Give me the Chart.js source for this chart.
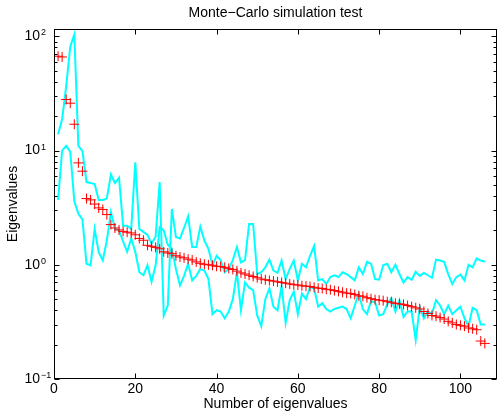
<!DOCTYPE html>
<html>
<head>
<meta charset="utf-8">
<script src="https://cdn.jsdelivr.net/npm/chart.js@4/dist/chart.umd.min.js"></script>
<style>
  html, body { margin: 0; padding: 0; background: #fff; }
  #wrap { width: 498px; height: 413px; }
</style>
</head>
<body>
<div id="wrap"><canvas id="mc" width="498" height="413"></canvas></div>
<script>
// labels
const titleText = 'Monte\u2212Carlo simulation test';
const xLabel = 'Number of eigenvalues';
const yLabel = 'Eigenvalues';
const xTicks = [0, 20, 40, 60, 80, 100];
const yTickExps = [-1, 0, 1, 2];

// sorted eigenvalues (red +), index 1..106
const eigenvalues = [
  67, 66, 28, 26, 17, 7.8, 6.6, 3.8, 3.7, 3.4,
  3.15, 3.05, 2.75, 2.25, 2.1, 2.02, 1.96, 1.93, 1.9, 1.83,
  1.7, 1.64, 1.48, 1.45, 1.42, 1.38, 1.3, 1.27, 1.25, 1.2,
  1.17, 1.15, 1.12, 1.1, 1.06, 1.03, 1.01, 1.0, 0.99, 0.97,
  0.965, 0.95, 0.93, 0.91, 0.88, 0.85, 0.83, 0.81, 0.79, 0.77,
  0.75, 0.74, 0.73, 0.72, 0.71, 0.70, 0.69, 0.68, 0.67, 0.665,
  0.655, 0.65, 0.645, 0.635, 0.625, 0.62, 0.61, 0.605, 0.595, 0.585,
  0.575, 0.565, 0.56, 0.55, 0.535, 0.53, 0.515, 0.505, 0.495, 0.49,
  0.485, 0.475, 0.47, 0.46, 0.455, 0.45, 0.44, 0.43, 0.42, 0.41,
  0.39, 0.375, 0.36, 0.355, 0.345, 0.335, 0.32, 0.31, 0.30, 0.295,
  0.29, 0.28, 0.275, 0.27, 0.215, 0.205
];

// simulated bands (cyan)
const upperBand = [
  13.9, 18.8, 36.6, 81, 104, 11, 9.9, 5.3, 5.2, 5.1,
  3.7, 3.7, 3.8, 6.2, 5.2, 5.8, 2.2, 2.2, 2.06, 7.9,
  2.06, 1.94, 1.83, 1.53, 1.76, 5.3, 0.36, 0.44, 3.08, 1.75,
  1.7, 2.1, 2.66, 1.43, 1.43, 2.16, 1.63, 1.38, 0.99, 1.2,
  1.1, 0.86, 0.92, 1.1, 1.43, 1.05, 1.1, 2.28, 2.28, 0.83,
  0.86, 0.95, 1.11, 0.89, 0.85, 1.09, 0.75, 0.92, 1.09, 0.73,
  1.02, 0.95, 1.2, 1.46, 0.73, 0.75, 0.68, 0.78, 0.81, 0.78,
  0.86, 0.83, 0.78, 0.73, 0.95, 0.83, 1.06, 1.02, 0.75, 0.74,
  0.99, 1.02, 0.86, 1.0, 0.83, 0.70, 0.78, 0.74, 0.87, 0.80,
  0.85, 0.81, 0.77, 1.11, 1.09, 1.06, 0.83, 0.68, 0.78, 0.82,
  0.73, 1.0, 0.95, 1.14, 1.09, 1.07
];

const lowerBand = [
  3.7, 10, 11, 9.8, 3.6, 2.8, 2.5, 1.02, 0.99, 2.06,
  1.29, 1.09, 1.63, 2.9, 2.06, 2.0, 1.6, 1.3, 1.7, 1.3,
  0.86, 0.81, 0.99, 0.71, 0.99, 2.13, 2.0, 1.5, 1.38, 0.92,
  0.66, 0.8, 1.02, 0.73, 0.8, 0.92, 0.89, 0.75, 0.37, 0.40,
  0.39, 0.34, 0.39, 0.5, 0.86, 0.40, 0.70, 0.63, 0.6, 0.36,
  0.29, 0.5, 0.62, 0.43, 0.40, 0.65, 0.31, 0.49, 0.58, 0.37,
  0.56, 0.5, 0.64, 0.62, 0.43, 0.46, 0.41, 0.39, 0.41, 0.42,
  0.43, 0.41, 0.34, 0.44, 0.56, 0.41, 0.37, 0.48, 0.47, 0.36,
  0.37, 0.45, 0.51, 0.39, 0.49, 0.35, 0.39, 0.39, 0.22, 0.43,
  0.34, 0.39, 0.37, 0.49, 0.44, 0.37, 0.44, 0.37, 0.40, 0.43,
  0.34, 0.29, 0.42, 0.40, 0.30, 0.30
];

const toPoints = arr => arr.map((v, i) => ({ x: i + 1, y: v }));

const FONT = '"Liberation Sans", Arial, Helvetica, sans-serif';

// box, inward ticks and all the labels, matlab style
const matlabAxes = {
  id: 'matlabAxes',
  afterDraw(chart) {
    const { ctx, chartArea: a, scales } = chart;
    const xs = scales.x, ys = scales.y;
    const L = Math.round(a.left) + 0.5, R = Math.round(a.right) - 0.5;
    const T = Math.round(a.top) + 0.5, B = Math.round(a.bottom) - 0.5;

    ctx.save();
    ctx.strokeStyle = '#000';
    ctx.lineWidth = 1;
    ctx.strokeRect(L, T, R - L, B - T);

    ctx.beginPath();
    xTicks.forEach(t => {
      const px = Math.round(xs.getPixelForValue(t)) + 0.5;
      ctx.moveTo(px, B); ctx.lineTo(px, B - 5);
      ctx.moveTo(px, T); ctx.lineTo(px, T + 5);
    });
    for (let e = -1; e <= 2; e++) {
      for (let m = 1; m <= 9; m++) {
        const v = m * Math.pow(10, e);
        if (v > ys.max) break;
        const py = Math.round(ys.getPixelForValue(v)) + 0.5;
        const len = m === 1 ? 5 : 3;
        ctx.moveTo(L, py); ctx.lineTo(L + len, py);
        ctx.moveTo(R, py); ctx.lineTo(R - len, py);
      }
    }
    ctx.stroke();

    ctx.fillStyle = '#000';
    ctx.font = '14px ' + FONT;
    ctx.textAlign = 'center';
    ctx.textBaseline = 'top';
    xTicks.forEach(t => ctx.fillText(String(t), xs.getPixelForValue(t), a.bottom + 3));

    yTickExps.forEach(e => {
      const py = ys.getPixelForValue(Math.pow(10, e));
      ctx.font = '14px ' + FONT;
      ctx.textAlign = 'right';
      ctx.textBaseline = 'middle';
      ctx.fillText('10', 40, py);
      ctx.font = '9px ' + FONT;
      ctx.textAlign = 'left';
      ctx.textBaseline = 'alphabetic';
      ctx.fillText(e < 0 ? '\u2212' + (-e) : String(e), 41, py - 1);
    });

    ctx.font = '14px ' + FONT;
    ctx.textAlign = 'center';
    ctx.textBaseline = 'middle';
    ctx.fillText(titleText, (a.left + a.right) / 2, 13);
    ctx.fillText(xLabel, (a.left + a.right) / 2, 404);
    ctx.translate(13, (a.top + a.bottom) / 2);
    ctx.rotate(-Math.PI / 2);
    ctx.fillText(yLabel, 0, 0);
    ctx.restore();
  }
};

new Chart(document.getElementById('mc'), {
  type: 'line',
  data: {
    datasets: [
      {
        label: 'eigenvalues',
        data: toPoints(eigenvalues),
        showLine: false,
        pointStyle: 'cross',
        pointRadius: 5,
        pointBorderWidth: 1,
        borderColor: '#ff0000',
        backgroundColor: '#ff0000',
        order: 0
      },
      {
        label: 'upper',
        data: toPoints(upperBand),
        borderColor: '#00ffff',
        borderWidth: 2,
        pointRadius: 0,
        tension: 0,
        order: 1
      },
      {
        label: 'lower',
        data: toPoints(lowerBand),
        borderColor: '#00ffff',
        borderWidth: 2,
        pointRadius: 0,
        tension: 0,
        order: 2
      }
    ]
  },
  options: {
    responsive: false,
    animation: false,
    devicePixelRatio: 1,
    layout: { autoPadding: false, padding: { top: 29, right: 1, left: 0, bottom: 0 } },
    plugins: { legend: { display: false }, tooltip: { enabled: false }, title: { display: false } },
    scales: {
      x: {
        type: 'linear',
        min: 0,
        max: 109,
        ticks: { display: false },
        grid: { display: false },
        border: { display: false },
        afterBuildTicks: s => { s.ticks = xTicks.map(v => ({ value: v })); },
        afterFit: s => { s.height = 34; }
      },
      y: {
        type: 'logarithmic',
        min: 0.1,
        max: 116,
        ticks: { display: false },
        grid: { display: false },
        border: { display: false },
        afterFit: s => { s.width = 54; }
      }
    }
  },
  plugins: [matlabAxes]
});
</script>
</body>
</html>
